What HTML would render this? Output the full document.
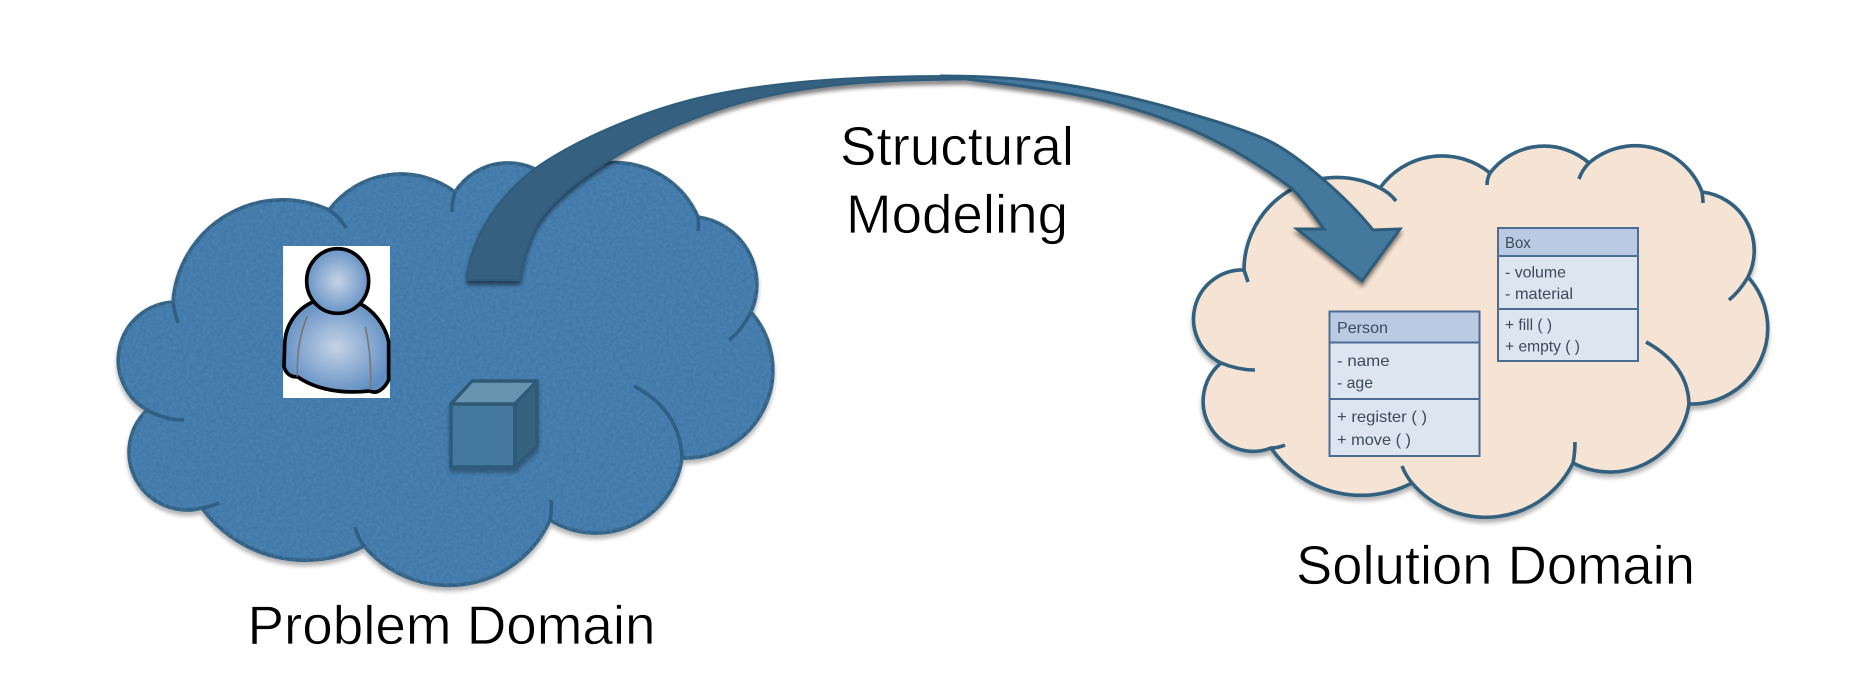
<!DOCTYPE html>
<html><head><meta charset="utf-8"><style>
html,body{margin:0;padding:0;background:#fff}
svg{display:block}
text{font-family:"Liberation Sans",sans-serif}
.lbl{font-size:55px;fill:#000;stroke:#fff;stroke-width:.7px;paint-order:normal}
.u{font-size:16px;fill:#3d4a5c}
</style></head><body>
<svg width="1856" height="674" viewBox="0 0 1856 674" xmlns="http://www.w3.org/2000/svg">
<defs>
<filter id="sh" filterUnits="userSpaceOnUse" x="0" y="0" width="1856" height="674"><feGaussianBlur in="SourceAlpha" stdDeviation="2"/><feOffset dy="4"/><feComponentTransfer><feFuncA type="linear" slope=".3"/></feComponentTransfer><feMerge><feMergeNode/><feMergeNode in="SourceGraphic"/></feMerge></filter>
<filter id="tex" filterUnits="userSpaceOnUse" x="0" y="0" width="1856" height="674"><feTurbulence type="fractalNoise" baseFrequency=".3" numOctaves="3" seed="4" result="n"/><feColorMatrix in="n" type="matrix" values="0 0 0 0 .2  0 0 0 0 .38  0 0 0 0 .58  0 0 0 .35 -.11" result="d"/><feComposite in="d" in2="SourceAlpha" operator="in" result="c"/><feMerge><feMergeNode in="SourceGraphic"/><feMergeNode in="c"/></feMerge></filter>
<filter id="sh2" filterUnits="userSpaceOnUse" x="0" y="0" width="1856" height="674"><feGaussianBlur in="SourceAlpha" stdDeviation="2"/><feOffset dy="4"/><feComponentTransfer><feFuncA type="linear" slope=".5"/></feComponentTransfer><feMerge><feMergeNode/><feMergeNode in="SourceGraphic"/></feMerge></filter>
<radialGradient id="pg" cx=".5" cy=".5" r=".55"><stop offset="0" stop-color="#c6d3e6"/><stop offset="1" stop-color="#5f8ec3"/></radialGradient>
</defs>
<rect width="1856" height="674" fill="#fff"/>

<!-- Problem cloud -->
<g filter="url(#sh)">
<path filter="url(#tex)" fill="#4079aa" stroke="#2f6084" stroke-width="3.6" stroke-linejoin="round"
 d="M173,302 A110,110 0 0 1 329,210 A90,90 0 0 1 455,192 A63,63 0 0 1 556,185 A90,90 0 0 1 698,217 A68,68 0 0 1 751,312 A88,88 0 0 1 682,458 A87,87 0 0 1 550,520 A111,111 0 0 1 364,546 A128,128 0 0 1 202,508 A58,58 0 0 1 147,410 A58,58 0 0 1 173,302 Z"/>
</g>
<g fill="none" stroke="#2f6084" stroke-width="3.6">
<path d="M173,302 Q175,315 178,323"/>
<path d="M329,210 Q340,217 346,228"/>
<path d="M455,192 Q452,202 452,212"/>
<path d="M698,217 Q699,224 698,231"/>
<path d="M751,312 Q742,330 729,340"/>
<path d="M634,386 Q680,410 682,458"/>
<path d="M551,500 Q552,510 550,520"/>
<path d="M355,527 Q358,538 364,546"/>
<path d="M202,508 Q210,507 219,503"/>
<path d="M147,410 Q165,420 184,420"/>
</g>

<!-- Solution cloud -->
<g filter="url(#sh)">
<path fill="#f5e3d3" stroke="#33607f" stroke-width="3.6" stroke-linejoin="round"
 d="M1244,270 A93,93 0 0 1 1380,188 A76,76 0 0 1 1490,173 A68,68 0 0 1 1589,163 A71,71 0 0 1 1702,192 A59,59 0 0 1 1748,277 A76,76 0 0 1 1689,404 A80,80 0 0 1 1573,463 A97,97 0 0 1 1412,483 A110,110 0 0 1 1271,448 A50,50 0 0 1 1221,363 A49,49 0 0 1 1244,270 Z"/>
</g>
<g fill="none" stroke="#33607f" stroke-width="3.6">
<path d="M1244,270 Q1246,276 1248,282"/>
<path d="M1380,188 Q1390,193 1396,201"/>
<path d="M1490,173 Q1487,179 1487,185"/>
<path d="M1589,163 Q1582,170 1579,179"/>
<path d="M1702,192 Q1703,198 1703,203"/>
<path d="M1748,277 Q1740,291 1729,300"/>
<path d="M1646,342 Q1688,365 1689,404"/>
<path d="M1575,442 Q1575,453 1573,463"/>
<path d="M1402,466 Q1406,476 1412,483"/>
<path d="M1271,448 Q1278,448 1285,445"/>
<path d="M1221,363 Q1238,370 1255,370"/>
</g>

<!-- UML Person -->
<g stroke="#4d6c95" stroke-width="2">
<rect x="1329.5" y="311.5" width="150" height="144.5" fill="#dde5f1"/>
<rect x="1329.5" y="311.5" width="150" height="31" fill="#b9cae2"/>
<line x1="1329.5" y1="399" x2="1479.5" y2="399"/>
<rect x="1498" y="228" width="140" height="133" fill="#dde5f1"/>
<rect x="1498" y="228" width="140" height="28" fill="#b9cae2"/>
<line x1="1498" y1="309" x2="1638" y2="309"/>
</g>
<text class="u" x="1337" y="333" textLength="51" lengthAdjust="spacingAndGlyphs">Person</text>
<text class="u" x="1337" y="366" textLength="52.6" lengthAdjust="spacingAndGlyphs">- name</text>
<text class="u" x="1337" y="388" textLength="36" lengthAdjust="spacingAndGlyphs">- age</text>
<text class="u" x="1337" y="422" textLength="90" lengthAdjust="spacingAndGlyphs">+ register ( )</text>
<text class="u" x="1337" y="445" textLength="74" lengthAdjust="spacingAndGlyphs">+ move ( )</text>
<text class="u" x="1505" y="248" textLength="25.7" lengthAdjust="spacingAndGlyphs">Box</text>
<text class="u" x="1505" y="277.5" textLength="61" lengthAdjust="spacingAndGlyphs">- volume</text>
<text class="u" x="1505" y="299" textLength="68" lengthAdjust="spacingAndGlyphs">- material</text>
<text class="u" x="1505" y="330" textLength="47" lengthAdjust="spacingAndGlyphs">+ fill ( )</text>
<text class="u" x="1505" y="351.5" textLength="75" lengthAdjust="spacingAndGlyphs">+ empty ( )</text>

<!-- Person icon -->
<rect x="283" y="246" width="107" height="152" fill="#fff"/>
<g transform="translate(270 235) scale(.3333)">
<path d="M130,200 C80,222 45,270 44,330 L42,395 C48,418 66,428 82,425 C120,452 190,480 300,468 C322,480 345,458 356,435 L356,320 C345,270 310,225 268,205 C240,240 170,240 130,200 Z" fill="url(#pg)" stroke="#000" stroke-width="11" stroke-linejoin="round"/>
<path d="M112,243 C88,300 80,360 82,425" fill="none" stroke="#777" stroke-width="5"/>
<path d="M286,275 C300,340 304,410 301,465" fill="none" stroke="#777" stroke-width="5"/>
<path d="M132,200 C165,240 235,240 268,205" fill="none" stroke="#666" stroke-width="5"/>
<ellipse cx="203" cy="138" rx="93" ry="97" fill="url(#pg)" stroke="#000" stroke-width="11"/>
</g>

<!-- Cube -->
<g stroke="#2d5a78" stroke-width="3.4" stroke-linejoin="round" filter="url(#sh)">
<rect x="451" y="404" width="64" height="63" fill="#44789e"/>
<polygon points="451,404 472,381 537,381 515,404" fill="#6694ae"/>
<polygon points="515,404 537,381 537,446 515,467" fill="#35627f"/>
</g>

<!-- Arrow -->
<g filter="url(#sh2)">
<path d="M467,280 C468,250 490,200 540,165 C580,138 640,113 690,100 C750,85 830,76 950,76 L990,79 L930,80 C870,81 825,85 783,93 C745,100 715,110 683,123 C655,134 630,148 610,160 C580,178 545,205 533,232 C525,250 522,265 520,280 Z" fill="#34617f" stroke="#2f5d7c" stroke-width="2" stroke-linejoin="round"/>
<path d="M940,76 C985,76 1030,79 1067,85 C1105,91 1135,98 1167,107 C1205,118 1240,128 1267,140 C1295,153 1345,195 1373,230 L1400,229 L1362,281 L1297,229 L1324,229 C1310,210 1300,195 1290,187 C1270,172 1250,160 1233,150 C1210,138 1190,128 1167,120 C1135,108 1100,99 1067,93 C1030,87 985,81 940,76 Z" fill="#44789d" stroke="#2f5d7c" stroke-width="3" stroke-linejoin="miter"/>
</g>

<!-- Labels -->
<text class="lbl" x="840" y="165" textLength="234" lengthAdjust="spacingAndGlyphs">Structural</text>
<text class="lbl" x="846" y="233" textLength="222" lengthAdjust="spacingAndGlyphs">Modeling</text>
<text class="lbl" x="247.5" y="644" textLength="408" lengthAdjust="spacingAndGlyphs">Problem Domain</text>
<text class="lbl" x="1296" y="584" textLength="399" lengthAdjust="spacingAndGlyphs">Solution Domain</text>
</svg>
</body></html>
